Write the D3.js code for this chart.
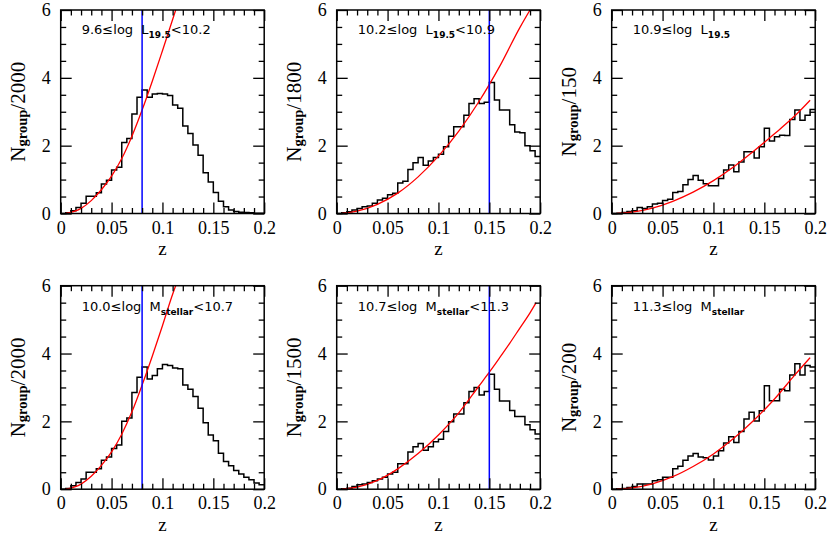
<!DOCTYPE html>
<html>
<head>
<meta charset="utf-8">
<script src="https://cdn.jsdelivr.net/npm/d3@7"></script>
<style>
body { margin: 0; background: #fff; }
svg { display: block; }
.axis path { display: none; }
.axis line { stroke: #000; stroke-width: 1.3; }
.axis text { font-family: "Liberation Serif", "DejaVu Serif", serif; font-size: 18px; fill: #000; }
.ylab { font-family: "Liberation Serif", "DejaVu Serif", serif; font-size: 21px; }
.xlab { font-family: "Liberation Serif", "DejaVu Serif", serif; font-size: 19px; }
.note { font-family: "DejaVu Sans", sans-serif; font-size: 13px; white-space: pre; }
</style>
</head>
<body>
<div id="chart"></div>
<script>
// histogram values, 40 bins of width 0.005 in z
var lumLow   = [0, 0.02, 0.08, 0.18, 0.3, 0.51, 0.51, 0.61, 0.87, 0.98, 1.28, 1.36, 2.09, 2.21, 2.93, 3.43, 3.64, 3.43, 3.52, 3.54,
                3.52, 3.48, 3.2, 3.1, 2.58, 2.36, 2.02, 1.72, 1.2, 0.93, 0.62, 0.36, 0.2, 0.1, 0.06, 0.04, 0.03, 0.02, 0.01, 0.01];
var lumMid   = [0, 0.02, 0.05, 0.1, 0.15, 0.2, 0.22, 0.3, 0.4, 0.45, 0.55, 0.6, 0.9, 0.95, 1.3, 1.5, 1.65, 1.42, 1.55, 1.65,
                1.75, 1.97, 2.28, 2.56, 2.56, 2.9, 3.24, 3.38, 3.24, 3.28, 3.86, 3.35, 3.05, 3.05, 2.62, 2.4, 2.38, 2.0, 1.85, 1.68];
var lumHigh  = [0, 0.01, 0.03, 0.06, 0.08, 0.18, 0.15, 0.2, 0.28, 0.3, 0.38, 0.42, 0.62, 0.65, 0.85, 1.0, 1.12, 0.98, 0.88, 0.82,
                0.82, 1.03, 1.28, 1.43, 1.23, 1.52, 1.82, 1.82, 1.64, 1.97, 2.51, 2.14, 2.26, 2.31, 2.3, 2.77, 3.05, 2.75, 2.9, 3.07];
var massLow  = [0, 0.02, 0.1, 0.2, 0.3, 0.5, 0.5, 0.6, 0.85, 0.95, 1.2, 1.3, 2.0, 2.1, 2.85, 3.3, 3.6, 3.25, 3.35, 3.55,
                3.68, 3.65, 3.57, 3.55, 3.07, 2.95, 2.73, 2.39, 1.96, 1.6, 1.43, 1.06, 0.82, 0.69, 0.55, 0.45, 0.35, 0.28, 0.18, 0.13];
var massMid  = [0, 0.01, 0.03, 0.08, 0.13, 0.15, 0.2, 0.25, 0.3, 0.35, 0.45, 0.5, 0.75, 0.75, 1.1, 1.25, 1.35, 1.15, 1.25, 1.4,
                1.47, 1.7, 1.99, 2.22, 2.22, 2.55, 2.88, 3.0, 2.78, 2.88, 3.39, 2.95, 2.6, 2.6, 2.32, 2.14, 2.14, 1.9, 1.75, 1.63];
var massHigh = [0, 0.01, 0.02, 0.05, 0.08, 0.15, 0.15, 0.15, 0.25, 0.28, 0.35, 0.35, 0.6, 0.68, 0.85, 0.98, 1.05, 0.95, 0.93, 0.86,
                0.98, 1.13, 1.36, 1.55, 1.38, 1.7, 2.07, 2.27, 2.01, 2.31, 3.05, 2.61, 2.61, 2.95, 2.9, 3.37, 3.7, 3.37, 3.65, 3.6];

// red model curves, [z, value] points
var fitLumLow   = [[0.005,0],[0.02,0.15],[0.03,0.38],[0.04,0.7],[0.05,1.1],[0.06,1.62],[0.07,2.28],[0.08,3.05],[0.09,3.9],[0.1,4.8],[0.11,5.72],[0.113,6.0]];
var fitLumMid   = [[0.005,0],[0.02,0.07],[0.04,0.27],[0.06,0.6],[0.08,1.08],[0.1,1.69],[0.12,2.43],[0.14,3.31],[0.16,4.33],[0.18,5.48],[0.19,6.0]];
var fitLumHigh  = [[0.005,0],[0.02,0.04],[0.04,0.16],[0.06,0.36],[0.08,0.63],[0.1,0.97],[0.12,1.38],[0.14,1.85],[0.16,2.35],[0.18,2.88],[0.195,3.34]];
var fitMassLow  = [[0.005,0],[0.02,0.15],[0.03,0.38],[0.04,0.7],[0.05,1.1],[0.06,1.62],[0.07,2.28],[0.08,3.07],[0.09,3.92],[0.1,4.82],[0.11,5.75],[0.113,6.0]];
var fitMassMid  = [[0.005,0],[0.02,0.06],[0.04,0.26],[0.06,0.6],[0.08,1.05],[0.1,1.6],[0.12,2.25],[0.14,3.05],[0.15,3.45],[0.16,3.87],[0.17,4.3],[0.18,4.75],[0.19,5.2],[0.196,5.5]];
var fitMassHigh = [[0.005,0],[0.02,0.04],[0.04,0.16],[0.06,0.37],[0.08,0.67],[0.1,1.04],[0.12,1.5],[0.14,2.04],[0.16,2.66],[0.18,3.37],[0.195,3.88]];

var cuts  = [0.08, 0.15, null, 0.08, 0.15, null];
var norms = ["2000", "1800", "150", "2000", "1500", "200"];
var notePre  = ["9.6\u2264log  L", "10.2\u2264log  L", "10.9\u2264log  L", "10.0\u2264log  M", "10.7\u2264log  M", "11.3\u2264log  M"];
var noteSub  = ["19.5", "19.5", "19.5", "stellar", "stellar", "stellar"];
var notePost = ["<10.2", "<10.9", "", "<10.7", "<11.3", ""];

var xTicks = [0, 0.05, 0.1, 0.15, 0.2];
var xTickLabels = ["0", "0.05", "0.1", "0.15", "0.2"];
var yTicks = [0, 2, 4, 6];
var yTickLabels = ["0", "2", "4", "6"];

var hists = [lumLow, lumMid, lumHigh, massLow, massMid, massHigh];
var fits = [fitLumLow, fitLumMid, fitLumHigh, fitMassLow, fitMassMid, fitMassHigh];
var binWidth = 0.005;

var colX = [60.7, 336.7, 611.7], rowY = [10, 285.7];
var pw = 203.5, ph = 203.5;

var svg = d3.select("#chart").append("svg")
    .attr("width", 830)
    .attr("height", 534);

svg.append("rect").attr("width", 830).attr("height", 534).attr("fill", "#fff");

var x = d3.scaleLinear().domain([0, 0.2]).range([0, pw]);
var y = d3.scaleLinear().domain([0, 6]).range([ph, 0]);

var xMinor = d3.range(1, 20).map(function(i) { return i / 100; }).filter(function(d, i) { return (i + 1) % 5 !== 0; });
var yMinor = d3.range(1, 12).map(function(i) { return i / 2; }).filter(function(d) { return d % 2 !== 0; });

var histLine = d3.line()
    .x(function(d) { return x(d[0]); })
    .y(function(d) { return y(d[1]); })
    .curve(d3.curveStepAfter);

var fitLine = d3.line()
    .x(function(d) { return x(d[0]); })
    .y(function(d) { return y(d[1]); })
    .curve(d3.curveMonotoneX);

hists.forEach(function(hist, p) {
    var left = colX[p % 3], top = rowY[Math.floor(p / 3)];
    var g = svg.append("g").attr("transform", "translate(" + left + "," + top + ")");

    g.append("clipPath").attr("id", "clip" + p)
        .append("rect").attr("width", pw).attr("height", ph);

    // histogram
    var steps = hist.map(function(v, i) { return [i * binWidth, v]; });
    steps.push([hist.length * binWidth, hist[hist.length - 1]]);
    g.append("path")
        .attr("d", histLine(steps))
        .attr("fill", "none")
        .attr("stroke", "#000")
        .attr("stroke-width", 1.5);

    // model
    g.append("path")
        .attr("d", fitLine(fits[p]))
        .attr("clip-path", "url(#clip" + p + ")")
        .attr("fill", "none")
        .attr("stroke", "#ff0000")
        .attr("stroke-width", 1.3);

    if (cuts[p] !== null) {
        g.append("line")
            .attr("x1", x(cuts[p])).attr("x2", x(cuts[p]))
            .attr("y1", y(0)).attr("y2", y(6))
            .attr("stroke", "#0000ff")
            .attr("stroke-width", 1.5);
    }

    // ticks on all four sides, pointing inward
    g.append("g").attr("class", "axis")
        .attr("transform", "translate(0," + ph + ")")
        .call(d3.axisBottom(x).tickValues(xTicks).tickSize(-11).tickPadding(7.5)
            .tickFormat(function(d, i) { return xTickLabels[i]; }));
    g.append("g").attr("class", "axis")
        .attr("transform", "translate(0," + ph + ")")
        .call(d3.axisBottom(x).tickValues(xMinor).tickSize(-5.5).tickFormat(""));
    g.append("g").attr("class", "axis")
        .call(d3.axisTop(x).tickValues(xTicks).tickSize(-11).tickFormat(""));
    g.append("g").attr("class", "axis")
        .call(d3.axisTop(x).tickValues(xMinor).tickSize(-5.5).tickFormat(""));

    g.append("g").attr("class", "axis")
        .call(d3.axisLeft(y).tickValues(yTicks).tickSize(-11).tickPadding(10)
            .tickFormat(function(d, i) { return yTickLabels[i]; }));
    g.append("g").attr("class", "axis")
        .call(d3.axisLeft(y).tickValues(yMinor).tickSize(-5.5).tickFormat(""));
    g.append("g").attr("class", "axis")
        .attr("transform", "translate(" + pw + ",0)")
        .call(d3.axisRight(y).tickValues(yTicks).tickSize(-11).tickFormat(""));
    g.append("g").attr("class", "axis")
        .attr("transform", "translate(" + pw + ",0)")
        .call(d3.axisRight(y).tickValues(yMinor).tickSize(-5.5).tickFormat(""));

    g.append("rect")
        .attr("width", pw).attr("height", ph)
        .attr("fill", "none")
        .attr("stroke", "#000")
        .attr("stroke-width", 1.5);

    // label inside the panel
    var note = g.append("text").attr("class", "note")
        .attr("x", 21).attr("y", p < 3 ? 24.3 : 25);
    note.append("tspan").text(notePre[p]);
    note.append("tspan").attr("dy", 4).attr("font-size", 9).attr("font-weight", "bold").text(noteSub[p]);
    note.append("tspan").attr("dy", -4).text(notePost[p]);

    // axis titles
    var yl = g.append("text").attr("class", "ylab")
        .attr("text-anchor", "middle")
        .attr("transform", "translate(-36," + (ph / 2) + ") rotate(-90)");
    yl.append("tspan").text("N");
    yl.append("tspan").attr("dy", 2).attr("font-size", 14.5).attr("font-weight", "bold").text("group");
    yl.append("tspan").attr("dy", -2).text("/" + norms[p]);

    g.append("text").attr("class", "xlab")
        .attr("text-anchor", "middle")
        .attr("x", pw / 2).attr("y", ph + 41.5)
        .text("z");
});
</script>
</body>
</html>
